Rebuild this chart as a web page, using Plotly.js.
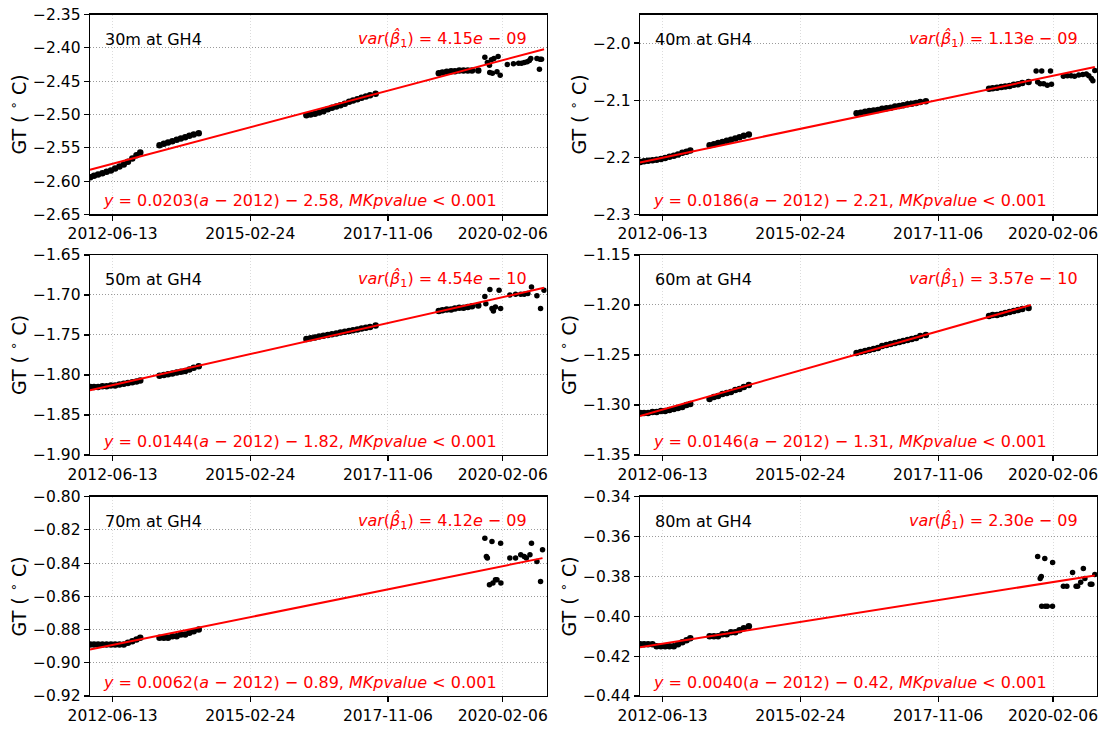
<!DOCTYPE html>
<html>
<head>
<meta charset="utf-8">
<script src="https://cdn.plot.ly/plotly-3.0.1.min.js"></script>
<style>html,body{margin:0;padding:0;background:#fff}#chart{width:1104px;height:729px}</style>
</head>
<body>
<div id="chart"></div>
<script>
// ---------- DATA ----------
const xTickVals = ['2012-06-13', '2015-02-24', '2017-11-06', '2020-02-06'];
const xTickText = ['2012-06-13', '2015-02-24', '2017-11-06', '2020-02-06'];

// dates of the dense (continuous) logging periods, shared by all depths
const denseDates = [
  '2012-01-05','2012-02-01','2012-03-01','2012-04-01','2012-05-01','2012-06-01','2012-07-01','2012-08-01','2012-09-01','2012-10-01','2012-11-01','2012-12-01','2012-12-28',
  '2013-05-15','2013-06-15','2013-07-15','2013-08-15','2013-09-15','2013-10-15','2013-11-15','2013-12-15','2014-01-15','2014-02-20',
  '2016-04-01','2016-05-01','2016-06-01','2016-07-01','2016-08-01','2016-09-01','2016-10-01','2016-11-01','2016-12-01','2017-01-01','2017-02-01','2017-03-01','2017-04-01','2017-05-01','2017-06-01','2017-07-01','2017-08-10',
  '2018-11-05','2018-12-01','2019-01-01','2019-02-01','2019-03-01','2019-04-01','2019-05-01','2019-06-01','2019-07-01','2019-08-15'
];

const gt30 = [
  -2.594,-2.592,-2.590,-2.588,-2.586,-2.584,-2.581,-2.578,-2.575,-2.571,-2.566,-2.561,-2.557,
  -2.546,-2.544,-2.542,-2.540,-2.538,-2.536,-2.534,-2.532,-2.530,-2.528,
  -2.501,-2.500,-2.499,-2.497,-2.495,-2.492,-2.490,-2.488,-2.486,-2.484,-2.481,-2.479,-2.477,-2.475,-2.473,-2.471,-2.469,
  -2.438,-2.437,-2.436,-2.435,-2.435,-2.434,-2.434,-2.434,-2.434,-2.434
];
const gt40 = [
  -2.208,-2.207,-2.206,-2.205,-2.204,-2.203,-2.201,-2.199,-2.197,-2.195,-2.192,-2.190,-2.188,
  -2.179,-2.177,-2.175,-2.173,-2.171,-2.169,-2.167,-2.165,-2.162,-2.160,
  -2.123,-2.122,-2.120,-2.119,-2.118,-2.117,-2.115,-2.114,-2.113,-2.111,-2.110,-2.109,-2.107,-2.106,-2.105,-2.103,-2.102,
  -2.080,-2.079,-2.078,-2.077,-2.076,-2.075,-2.073,-2.072,-2.070,-2.068
];
const gt50 = [
  -1.815,-1.815,-1.815,-1.814,-1.814,-1.813,-1.813,-1.812,-1.811,-1.810,-1.809,-1.808,-1.807,
  -1.801,-1.800,-1.799,-1.798,-1.797,-1.796,-1.795,-1.793,-1.791,-1.789,
  -1.755,-1.754,-1.753,-1.752,-1.751,-1.750,-1.749,-1.748,-1.747,-1.746,-1.745,-1.744,-1.743,-1.742,-1.741,-1.740,-1.738,
  -1.720,-1.719,-1.718,-1.718,-1.717,-1.716,-1.716,-1.715,-1.714,-1.713
];
const gt60 = [
  -1.308,-1.308,-1.308,-1.307,-1.307,-1.306,-1.306,-1.305,-1.304,-1.303,-1.302,-1.300,-1.299,
  -1.294,-1.292,-1.291,-1.289,-1.288,-1.287,-1.285,-1.284,-1.282,-1.280,
  -1.248,-1.247,-1.246,-1.245,-1.244,-1.243,-1.241,-1.240,-1.239,-1.238,-1.237,-1.236,-1.235,-1.234,-1.233,-1.231,-1.230,
  -1.211,-1.210,-1.210,-1.209,-1.208,-1.207,-1.206,-1.205,-1.204,-1.203
];
const gt70 = [
  -0.889,-0.889,-0.889,-0.889,-0.889,-0.889,-0.889,-0.889,-0.889,-0.888,-0.887,-0.886,-0.885,
  -0.885,-0.885,-0.885,-0.884,-0.884,-0.883,-0.883,-0.882,-0.881,-0.880,
  null,null,null,null,null,null,null,null,null,null,null,null,null,null,null,null,null,
  null,null,null,null,null,null,null,null,null,null
];
const gt80 = [
  -0.414,-0.414,-0.414,-0.414,-0.415,-0.415,-0.415,-0.415,-0.415,-0.414,-0.413,-0.412,-0.411,
  -0.410,-0.410,-0.410,-0.409,-0.409,-0.408,-0.408,-0.407,-0.406,-0.405,
  null,null,null,null,null,null,null,null,null,null,null,null,null,null,null,null,null,
  null,null,null,null,null,null,null,null,null,null
];

// sparse (manual) readings after late 2019
const sparseDates30 = ['2019-10-01','2019-10-19','2019-11-03','2019-11-17','2019-12-05','2020-01-04','2019-11-05','2019-11-24','2019-12-27','2020-01-19','2020-03-10','2020-04-23','2020-05-30','2020-06-20','2020-07-10','2020-07-30','2020-08-15','2020-08-25','2020-10-08','2020-10-30','2020-10-26','2020-11-10'];
const sparse30 = [-2.414,-2.422,-2.426,-2.418,-2.416,-2.413,-2.437,-2.438,-2.436,-2.441,-2.425,-2.424,-2.423,-2.423,-2.422,-2.421,-2.419,-2.416,-2.416,-2.417,-2.432,-2.417];

const sparseDates40 = ['2019-10-08','2019-10-19','2019-11-06','2019-11-17','2019-12-01','2019-12-27','2020-01-19','2020-01-26','2020-04-20','2020-05-19','2020-06-14','2020-07-09','2020-08-08','2020-09-06','2020-10-01','2020-10-19','2020-11-06','2020-11-17','2020-12-01'];
const sparse40 = [-2.049,-2.068,-2.071,-2.049,-2.071,-2.074,-2.049,-2.072,-2.058,-2.057,-2.057,-2.058,-2.056,-2.055,-2.054,-2.057,-2.062,-2.066,-2.048];

const sparseDates50 = ['2019-10-01','2019-10-08','2019-11-06','2019-11-21','2019-12-01','2019-12-16','2020-01-11','2020-01-22','2020-03-28','2020-05-08','2020-06-14','2020-07-09','2020-08-04','2020-08-30','2020-10-08','2020-11-03','2020-11-28'];
const sparse50 = [-1.702,-1.711,-1.693,-1.717,-1.720,-1.715,-1.694,-1.717,-1.700,-1.699,-1.699,-1.699,-1.698,-1.690,-1.701,-1.717,-1.694];

const sparseDates60 = [];
const sparse60 = [];

const sparseDates70 = ['2019-10-01','2019-10-12','2019-10-19','2019-11-03','2019-11-21','2019-11-28','2019-12-16','2019-12-27','2020-01-22','2020-01-24','2020-03-28','2020-05-08','2020-06-14','2020-07-09','2020-07-24','2020-08-19','2020-08-30','2020-10-08','2020-11-03','2020-11-17'];
const sparse70 = [-0.825,-0.836,-0.837,-0.853,-0.827,-0.852,-0.850,-0.850,-0.828,-0.852,-0.837,-0.837,-0.835,-0.836,-0.837,-0.835,-0.828,-0.839,-0.851,-0.832];

const sparseDates80 = ['2019-10-19','2019-11-06','2019-11-14','2019-11-17','2019-12-09','2019-12-12','2019-12-27','2020-02-02','2020-02-03','2020-04-20','2020-05-15','2020-06-25','2020-07-20','2020-07-31','2020-08-22','2020-09-10','2020-09-21','2020-10-30','2020-11-10','2020-12-01'];
const sparse80 = [-0.370,-0.381,-0.380,-0.395,-0.371,-0.395,-0.395,-0.395,-0.373,-0.385,-0.385,-0.378,-0.385,-0.385,-0.383,-0.376,-0.381,-0.384,-0.384,-0.379];

// fitted trend line: first / last date and value
const trendStart = ['2012-01-03','2012-01-03','2012-01-03','2012-01-03','2012-01-03','2012-01-03'];
const trendEnd   = ['2020-11-28','2020-12-01','2020-11-28','2019-08-31','2020-11-17','2020-12-01'];
const trendY0 = [-2.583, -2.209, -1.819, -1.311, -0.892, -0.4156];
const trendY1 = [-2.402, -2.042, -1.691, -1.200, -0.837, -0.3795];

const depthLabels = ['30m at GH4','40m at GH4','50m at GH4','60m at GH4','70m at GH4','80m at GH4'];
const slopes     = ['0.0203','0.0186','0.0144','0.0146','0.0062','0.0040'];
const intercepts = ['2.58','2.21','1.82','1.31','0.89','0.42'];
const varMant    = ['4.15','1.13','4.54','3.57','4.12','2.30'];
const varExp     = ['09','09','10','10','09','09'];

const yRanges = [[-2.65,-2.35],[-2.3,-1.95],[-1.90,-1.65],[-1.35,-1.15],[-0.92,-0.80],[-0.44,-0.34]];
const yTicks = [
  [-2.65,-2.60,-2.55,-2.50,-2.45,-2.40,-2.35],
  [-2.3,-2.2,-2.1,-2.0],
  [-1.90,-1.85,-1.80,-1.75,-1.70,-1.65],
  [-1.35,-1.30,-1.25,-1.20,-1.15],
  [-0.92,-0.90,-0.88,-0.86,-0.84,-0.82,-0.80],
  [-0.44,-0.42,-0.40,-0.38,-0.36,-0.34]
];
const yFormats = ['.2f','.1f','.2f','.2f','.2f','.2f'];

// ---------- BUILD ----------
const denseSeries = [gt30, gt40, gt50, gt60, gt70, gt80];
const sparseX = [sparseDates30, sparseDates40, sparseDates50, sparseDates60, sparseDates70, sparseDates80];
const sparseY = [sparse30, sparse40, sparse50, sparse60, sparse70, sparse80];

const xDomL = [0.0815, 0.4952], xDomR = [0.5797, 0.9937];
const yDoms = [[0.7058, 0.9801], [0.3759, 0.6502], [0.0453, 0.3187]];
const FONT = 'DejaVu Sans, Liberation Sans, sans-serif';
const RED = '#ff0000';

const traces = [];
const layout = {
  width: 1104, height: 729,
  margin: {l: 0, r: 0, t: 0, b: 0},
  paper_bgcolor: '#fff', plot_bgcolor: '#fff',
  showlegend: false,
  font: {family: FONT, size: 15.5, color: '#000'},
  annotations: []
};

for (let i = 0; i < 6; i++) {
  const n = i + 1;
  const xa = n === 1 ? 'x' : 'x' + n;
  const ya = n === 1 ? 'y' : 'y' + n;
  const col = i % 2, row = Math.floor(i / 2);

  traces.push({
    type: 'scatter', mode: 'markers', x: denseDates, y: denseSeries[i],
    xaxis: xa, yaxis: ya, marker: {color: '#000', size: 6.5}, hoverinfo: 'skip'
  });
  traces.push({
    type: 'scatter', mode: 'markers', x: sparseX[i], y: sparseY[i],
    xaxis: xa, yaxis: ya, marker: {color: '#000', size: 5.5}, hoverinfo: 'skip'
  });
  traces.push({
    type: 'scatter', mode: 'lines', x: [trendStart[i], trendEnd[i]], y: [trendY0[i], trendY1[i]],
    xaxis: xa, yaxis: ya, line: {color: RED, width: 2}, hoverinfo: 'skip'
  });

  const common = {
    showline: true, mirror: true, linecolor: '#000', linewidth: 1.3,
    ticks: 'outside', ticklen: 5, tickwidth: 1.2, tickcolor: '#000',
    showgrid: true, zeroline: false, fixedrange: true,
    tickfont: {family: FONT, size: 15.5, color: '#000'}
  };
  layout[n === 1 ? 'xaxis' : 'xaxis' + n] = Object.assign({}, common, {
    type: 'date', domain: col === 0 ? xDomL : xDomR, anchor: ya,
    range: ['2012-01-03', '2020-12-17'],
    tickmode: 'array', tickvals: xTickVals, ticktext: xTickText,
    gridcolor: '#dcdcdc', griddash: '1px,2px', gridwidth: 1
  });
  layout[n === 1 ? 'yaxis' : 'yaxis' + n] = Object.assign({}, common, {
    domain: yDoms[row], anchor: xa, range: yRanges[i],
    tickmode: 'array', tickvals: yTicks[i], tickformat: yFormats[i],
    gridcolor: '#9a9a9a', griddash: '1px,2px', gridwidth: 1,
    title: {text: 'GT ( <sup>∘</sup> C)', font: {family: FONT, size: 19, color: '#000'}, standoff: 1}
  });

  const xd = xa + ' domain', yd = ya + ' domain';
  layout.annotations.push({
    xref: xd, yref: yd, x: 0.028, y: 0.875, xanchor: 'left', yanchor: 'middle',
    text: depthLabels[i], showarrow: false, font: {family: FONT, size: 16, color: '#000'}
  });
  layout.annotations.push({
    xref: xd, yref: yd, x: 0.962, y: 0.878, xanchor: 'right', yanchor: 'middle',
    text: '<i>var</i>(<i>β̂</i><sub>1</sub>) = ' + varMant[i] + '<i>e</i> − ' + varExp[i],
    showarrow: false, font: {family: FONT, size: 16, color: RED}
  });
  layout.annotations.push({
    xref: xd, yref: yd, x: 0.025, y: 0.0675, xanchor: 'left', yanchor: 'middle',
    text: '<i>y</i> = ' + slopes[i] + '(<i>a</i> − 2012) − ' + intercepts[i] + ', <i>MKpvalue</i> &lt; 0.001',
    showarrow: false, font: {family: FONT, size: 16, color: RED}
  });
}

Plotly.newPlot('chart', traces, layout, {staticPlot: true, displayModeBar: false});
</script>
</body>
</html>
